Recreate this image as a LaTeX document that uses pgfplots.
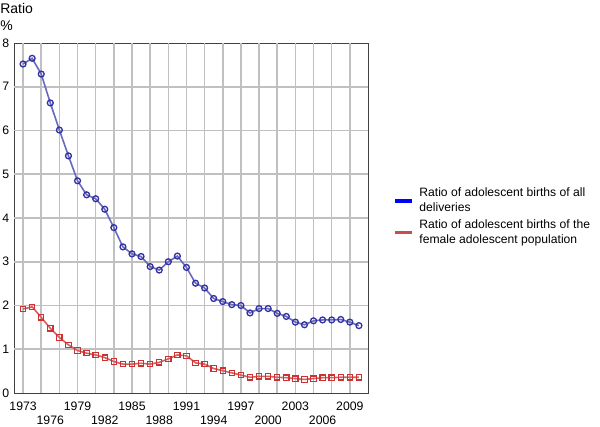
\documentclass[border=0pt]{standalone}
\usepackage{fontspec}
\setmainfont{Liberation Sans}
\usepackage{pgfplots}
\pgfplotsset{compat=1.18}
\definecolor{blueline}{RGB}{105,105,190}
\definecolor{bluemark}{RGB}{50,50,165}
\definecolor{redline}{RGB}{215,95,95}
\definecolor{redmark}{RGB}{205,50,50}
\definecolor{legred}{RGB}{195,80,78}
\definecolor{gridc}{RGB}{192,192,192}

\begin{document}
\begin{tikzpicture}
\useasboundingbox (-10.5pt,-24.75pt) rectangle (439.5pt,294.75pt);
\begin{axis}[
  at={(0,0)}, anchor=south west,
  scale only axis,
  width=265.5pt, height=262.5pt,
  xmin=1972, xmax=2011,
  ymin=0, ymax=8,
  ytick={0,1,...,8},
  xtick={1973,1976,...,2009},
  x tick style={draw=none},
  xticklabel={\ifodd\ticknum\relax\raisebox{-10.5pt}[\height][0pt]{\pgfmathprintnumber{\tick}}\else\pgfmathprintnumber{\tick}\fi},
  axis line style={black!75, line width=0.7pt},
  tick style={black!75, line width=0.5pt},
  major tick length=2pt,
  tick align=inside,
  xtick pos=bottom, ytick pos=left,
  /pgf/number format/assume math mode=true,
  /pgf/number format/1000 sep={},
  tick label style={font=\fontsize{9.2}{11}\selectfont, black},
  xticklabel style={yshift=-3pt},
  legend style={draw=none, fill=none, inner sep=0pt,
    at={(1.0706,0.595)}, anchor=north west,
    font=\fontsize{9.1}{11.6}\selectfont,
    cells={align=left}, row sep=0pt},
  legend cell align=left,
  legend image code/.code={\draw[#1, line width=2.6pt] (0pt,0pt) -- (12.5pt,0pt);},
  legend style={nodes={inner xsep=4.5pt}},
]
% grid: horizontal at each unit, vertical at odd years
\pgfplotsinvokeforeach{1,...,7}{\draw[draw=gridc, line width=1.2pt] (axis cs:1972,#1) -- (axis cs:2011,#1);}
\pgfplotsinvokeforeach{1973,1975,...,2009}{\draw[draw=gridc, line width=1.2pt] (axis cs:#1,0) -- (axis cs:#1,8);}
\addplot[blueline, line width=1.2pt, mark=o, mark size=2.2pt,
  mark options={bluemark, line width=1pt, fill=blueline!25}, forget plot] coordinates {
  (1973,7.52) (1974,7.65) (1975,7.29) (1976,6.63) (1977,6.01)
  (1978,5.42) (1979,4.85) (1980,4.53) (1981,4.44) (1982,4.20)
  (1983,3.78) (1984,3.34) (1985,3.18) (1986,3.12) (1987,2.89)
  (1988,2.81) (1989,3.00) (1990,3.13) (1991,2.87) (1992,2.51)
  (1993,2.40) (1994,2.16) (1995,2.09) (1996,2.02) (1997,2.00)
  (1998,1.83) (1999,1.93) (2000,1.93) (2001,1.82) (2002,1.75)
  (2003,1.62) (2004,1.56) (2005,1.65) (2006,1.67) (2007,1.67)
  (2008,1.68) (2009,1.62) (2010,1.54)
};
\addplot[redline, line width=1.2pt, mark=square, mark size=2pt,
  mark options={redmark, line width=0.9pt, fill=redline!20}, forget plot] coordinates {
  (1973,1.92) (1974,1.97) (1975,1.73) (1976,1.48) (1977,1.27)
  (1978,1.10) (1979,0.97) (1980,0.91) (1981,0.87) (1982,0.81)
  (1983,0.72) (1984,0.66) (1985,0.66) (1986,0.68) (1987,0.66)
  (1988,0.70) (1989,0.78) (1990,0.87) (1991,0.85) (1992,0.69)
  (1993,0.66) (1994,0.56) (1995,0.51) (1996,0.46) (1997,0.41)
  (1998,0.36) (1999,0.38) (2000,0.38) (2001,0.36) (2002,0.35)
  (2003,0.33) (2004,0.31) (2005,0.33) (2006,0.35) (2007,0.35)
  (2008,0.36) (2009,0.36) (2010,0.36)
};
\addlegendimage{blue}
\addlegendentry{Ratio of adolescent births of all\\deliveries}
\addlegendimage{legred}
\addlegendentry{Ratio of adolescent births of the\\female adolescent population}
\end{axis}
\node[anchor=base west, inner sep=0pt, font=\fontsize{10.5}{12}\selectfont] at (-10.5pt,285pt) {Ratio};
\node[anchor=base west, inner sep=0pt, font=\fontsize{10.5}{12}\selectfont] at (-10.5pt,272.25pt) {\%};
\end{tikzpicture}
\end{document}
